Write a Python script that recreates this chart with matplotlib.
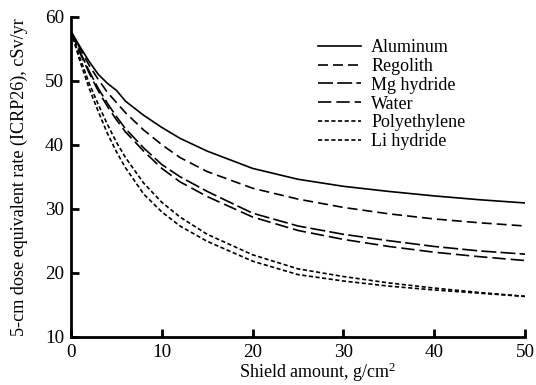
import matplotlib
matplotlib.use("Agg")
import matplotlib.pyplot as plt

plt.rcParams["font.family"] = ["Liberation Serif", "DejaVu Serif"]
plt.rcParams["mathtext.fontset"] = "custom"
plt.rcParams["mathtext.rm"] = "Liberation Serif"
plt.rcParams["mathtext.it"] = "Liberation Serif:italic"

# shield amount, g/cm^2
shield = [0, 1, 2, 3, 4, 5, 6, 8, 10, 12, 15, 20, 25, 30, 35, 40, 45, 50]

aluminum = [57.7, 55.3, 53.0, 51.0, 49.6, 48.5, 46.8, 44.6, 42.7, 41.0, 39.0, 36.3, 34.6, 33.5, 32.7, 32.0, 31.4, 30.9]
regolith = [57.7, 55.0, 52.4, 50.2, 48.2, 46.6, 45.0, 42.3, 40.0, 38.0, 35.8, 33.2, 31.5, 30.2, 29.2, 28.4, 27.8, 27.3]
mg_hydride = [57.7, 54.5, 51.5, 48.8, 46.5, 44.4, 42.5, 39.5, 36.9, 35.0, 32.7, 29.3, 27.3, 26.0, 25.0, 24.1, 23.4, 22.9]
water = [57.7, 54.3, 51.2, 48.4, 46.0, 43.9, 42.0, 39.0, 36.3, 34.2, 31.9, 28.7, 26.6, 25.2, 24.1, 23.2, 22.5, 21.9]
polyethylene = [57.7, 53.5, 49.6, 46.3, 43.2, 40.4, 38.0, 34.0, 31.0, 28.7, 26.0, 22.8, 20.6, 19.4, 18.4, 17.6, 16.9, 16.3]
li_hydride = [57.7, 53.0, 48.8, 45.2, 41.8, 38.9, 36.4, 32.3, 29.5, 27.3, 24.9, 21.8, 19.7, 18.7, 17.9, 17.3, 16.8, 16.3]

series = [
    ("Aluminum", aluminum, None),
    ("Regolith", regolith, (6, 3)),
    ("Mg hydride", mg_hydride, (9, 2.5)),
    ("Water", water, (8, 3)),
    ("Polyethylene", polyethylene, (2.5, 1.5)),
    ("Li hydride", li_hydride, (2.5, 1.5)),
]

fig = plt.figure(figsize=(5.36, 3.85), dpi=100)
ax = fig.add_axes([0.1325, 0.1255, 0.847, 0.831])

for navn, y, dash in series:
    if dash is None:
        ax.plot(shield, y, color="black", linewidth=1.2, label=navn)
    else:
        ax.plot(shield, y, color="black", linewidth=1.2, dashes=dash, label=navn)

ax.set_xlim(0, 50)
ax.set_ylim(10, 60)
ax.set_xticks([0, 10, 20, 30, 40, 50])
ax.set_yticks([10, 20, 30, 40, 50, 60])
ax.spines["top"].set_visible(False)
ax.spines["right"].set_visible(False)
ax.spines["left"].set_linewidth(2)
ax.spines["bottom"].set_linewidth(2)
ax.tick_params(direction="in", length=6, width=2, labelsize=13.8, pad=5)

ax.set_xlabel("Shield amount, g/cm$^{2}$", fontsize=13)
ax.xaxis.set_label_coords(0.542, -0.075)
ax.set_ylabel("5-cm dose equivalent rate (ICRP26), cSv/yr", fontsize=13.1)
ax.yaxis.set_label_coords(-0.095, 0.5)

ax.legend(loc="upper left", bbox_to_anchor=(0.544, 0.93), frameon=False, fontsize=13,
          handlelength=2.4, handletextpad=0.55, labelspacing=0.1, borderaxespad=0,
          borderpad=0)

plt.savefig("out.png", dpi=100)
